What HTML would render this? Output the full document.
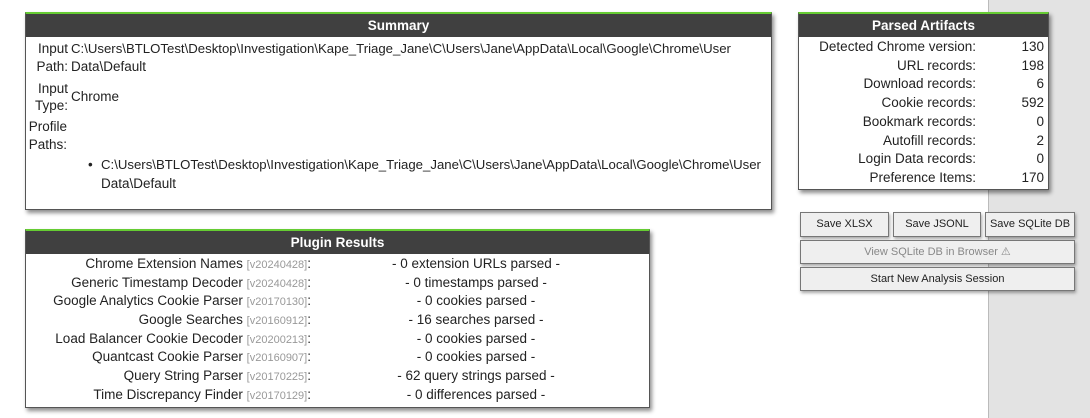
<!DOCTYPE html>
<html><head><meta charset="utf-8"><style>
*{margin:0;padding:0;box-sizing:border-box}
body{width:1090px;height:418px;background:#fff;position:relative;overflow:hidden;font-family:"Liberation Sans",sans-serif;color:#222}
.gray{position:absolute;left:988px;top:0;width:102px;height:418px;background:#e3e3e3;border-left:1px solid #bbb}
.box{position:absolute;background:#fff;border:1px solid #555;border-top:2px solid #6c3;box-shadow:2px 3px 4px rgba(0,0,0,.45)}
.hd{background:#404040;color:#fff;font-weight:bold;font-size:13.5px;text-align:center;height:23px;line-height:24px}
.t{position:absolute;font-size:13.5px;white-space:nowrap;line-height:18px}
.s{font-size:13.2px}
.r{text-align:right}
.v{color:#999;font-size:11px}
.pr div{height:18.7px;line-height:18.7px;overflow:visible;white-space:nowrap}
.btn{position:absolute;background:#efefef;border:1px solid #777;box-shadow:1px 2px 3px rgba(0,0,0,.35);font-size:11px;text-align:center;color:#222;line-height:22px}
</style></head><body>
<div class="gray"></div>

<div class="box" style="left:25px;top:12px;width:747px;height:198px">
<div class="hd">Summary</div>
</div>
<div class="t r" style="left:25px;top:40px;width:43px">Input</div>
<div class="t r" style="left:25px;top:58px;width:43px">Path:</div>
<div class="t s" style="left:71px;top:40px">C:\Users\BTLOTest\Desktop\Investigation\Kape_Triage_Jane\C\Users\Jane\AppData\Local\Google\Chrome\User</div>
<div class="t" style="left:71px;top:58px">Data\Default</div>
<div class="t r" style="left:25px;top:80px;width:43px">Input</div>
<div class="t r" style="left:25px;top:97px;width:43px">Type:</div>
<div class="t" style="left:71px;top:88px">Chrome</div>
<div class="t r" style="left:20px;top:118px;width:47px">Profile</div>
<div class="t r" style="left:20px;top:136px;width:47px">Paths:</div>
<div class="t" style="left:88px;top:156px">•</div>
<div class="t s" style="left:101px;top:156px">C:\Users\BTLOTest\Desktop\Investigation\Kape_Triage_Jane\C\Users\Jane\AppData\Local\Google\Chrome\User</div>
<div class="t" style="left:101px;top:175px">Data\Default</div>

<div class="box" style="left:798px;top:12px;width:251px;height:178px">
<div class="hd">Parsed Artifacts</div>
</div>
<div class="t r" style="left:800px;top:38px;width:176px;line-height:18.7px">Detected Chrome version:<br>URL records:<br>Download records:<br>Cookie records:<br>Bookmark records:<br>Autofill records:<br>Login Data records:<br>Preference Items:</div>
<div class="t r" style="left:1000px;top:38px;width:44px;line-height:18.7px">130<br>198<br>6<br>592<br>0<br>2<br>0<br>170</div>

<div class="btn" style="left:800px;top:212px;width:89px;height:25px">Save XLSX</div>
<div class="btn" style="left:893px;top:212px;width:88px;height:25px">Save JSONL</div>
<div class="btn" style="left:985px;top:212px;width:90px;height:25px">Save SQLite DB</div>
<div class="btn" style="left:800px;top:240px;width:275px;height:24px;color:#888">View SQLite DB in Browser ⚠</div>
<div class="btn" style="left:800px;top:267px;width:275px;height:24px">Start New Analysis Session</div>

<div class="box" style="left:25px;top:229px;width:625px;height:179px">
<div class="hd">Plugin Results</div>
</div>
<div class="t r pr" style="left:30px;top:255px;width:281px">
<div>Chrome Extension Names <span class="v">[v20240428]</span>:</div>
<div>Generic Timestamp Decoder <span class="v">[v20240428]</span>:</div>
<div>Google Analytics Cookie Parser <span class="v">[v20170130]</span>:</div>
<div>Google Searches <span class="v">[v20160912]</span>:</div>
<div>Load Balancer Cookie Decoder <span class="v">[v20200213]</span>:</div>
<div>Quantcast Cookie Parser <span class="v">[v20160907]</span>:</div>
<div>Query String Parser <span class="v">[v20170225]</span>:</div>
<div>Time Discrepancy Finder <span class="v">[v20170129]</span>:</div>
</div>
<div class="t pr" style="left:326px;top:255px;width:300px;text-align:center">
<div>- 0 extension URLs parsed -</div>
<div>- 0 timestamps parsed -</div>
<div>- 0 cookies parsed -</div>
<div>- 16 searches parsed -</div>
<div>- 0 cookies parsed -</div>
<div>- 0 cookies parsed -</div>
<div>- 62 query strings parsed -</div>
<div>- 0 differences parsed -</div>
</div>
</body></html>
